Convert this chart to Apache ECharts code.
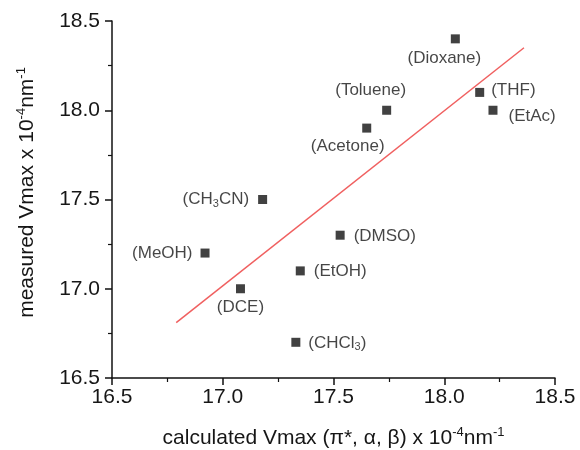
<!DOCTYPE html>
<html><head><meta charset="utf-8">
<script src="https://cdn.jsdelivr.net/npm/echarts@6/dist/echarts.min.js"></script>
<style>html,body{margin:0;padding:0;background:#fff}#c{width:580px;height:450px}</style>
</head><body><div id="c"></div>
<script>
const solvents = ['Dioxane','THF','EtAc','Toluene','Acetone','CH3CN','DMSO','MeOH','EtOH','DCE','CHCl3'];
const calculated = [18.05,18.16,18.22,17.74,17.65,17.18,17.53,16.92,17.35,17.08,17.33];
const measured   = [18.40,18.10,18.00,18.00,17.90,17.50,17.30,17.20,17.10,17.00,16.70];
const fitX = [16.79, 18.36];
const fitY = [16.81, 18.35];
const xTicks = [16.5, 17.0, 17.5, 18.0, 18.5];
const yTicks = [16.5, 17.0, 17.5, 18.0, 18.5];

const FONT = 'Liberation Sans, Arial, sans-serif';
const INK = '#161616';
const labelText = {
  CH3CN: '{a|(CH}{sub|3}{a|CN)}',
  CHCl3: '{a|(CHCl}{sub|3}{a|)}'
};
const labelPlace = {
  Dioxane: {position:'bottom', offset:[-11,1]},
  THF: {position:'right', offset:[2,-2]},
  EtAc: {position:'right', offset:[6,6]},
  Toluene: {position:'top', offset:[-16,-2]},
  Acetone: {position:'bottom', offset:[-19,0]},
  CH3CN: {position:'left', offset:[-4,0]},
  DMSO: {position:'right', offset:[4,1]},
  MeOH: {position:'left', offset:[-3,0]},
  EtOH: {position:'right', offset:[4,0]},
  DCE: {position:'bottom', offset:[0,1]},
  CHCl3: {position:'right', offset:[3,1]}
};
const rich = {
  a: {fontSize: 17, color:INK, fontFamily:FONT},
  sub: {fontSize: 11, color:INK, fontFamily:FONT, padding:[8,0,0,0]}
};
const pts = solvents.map((s,i)=>({
  value:[calculated[i], measured[i]],
  label:{show:true, position:labelPlace[s].position, offset:labelPlace[s].offset,
    formatter: labelText[s] || ('{a|(' + s + ')}'), rich: rich}
}));
const fitData = fitX.map((x,i)=>[x, fitY[i]]);

const titleRich = {
  t: {fontSize: 21, color:INK, fontFamily:FONT},
  sup: {fontSize: 13, color:INK, fontFamily:FONT, padding:[0,0,12,0]}
};
const axisCommon = {
  min: 16.5, max: 18.5, interval: 0.5,
  axisLine:{show:true, lineStyle:{color:'#111', width:1.5}},
  axisTick:{show:true, inside:false, length:7, lineStyle:{color:'#111', width:1.5}},
  minorTick:{show:true, splitNumber:2, length:4, lineStyle:{color:'#111', width:1.2}},
  splitLine:{show:false},
  axisLabel:{fontSize:21, color:INK, fontFamily:FONT, formatter: v => v.toFixed(1)}
};
const chart = echarts.init(document.getElementById('c'), null, {renderer:'canvas'});
chart.setOption({
  animation:false,
  backgroundColor:'#fff',
  grid:{left:112, right:25, top:21, bottom:72, containLabel:false, outerBoundsMode:'none'},
  xAxis: Object.assign({}, axisCommon, {
    type:'value',
    name:'{t|calculated Vmax (π*, α, β) x 10}{sup|-4}{t|nm}{sup|-1}',
    nameLocation:'middle', nameGap:48,
    nameTextStyle:{rich: titleRich},
    axisLabel: Object.assign({}, axisCommon.axisLabel, {margin:9})
  }),
  yAxis: Object.assign({}, axisCommon, {
    type:'value',
    name:'{t|measured Vmax x 10}{sup|-4}{t|nm}{sup|-1}',
    nameLocation:'middle', nameGap:72,
    nameTextStyle:{rich: titleRich, padding:[0,0,0,14]},
    axisLabel: Object.assign({}, axisCommon.axisLabel, {margin:12})
  }),
  series:[
    {type:'line', data: fitData, symbol:'none', lineStyle:{color:'#f06060', width:1.5}, z:1},
    {type:'scatter', data: pts, symbol:'rect', symbolSize:9, itemStyle:{color:'#111'}, z:3}
  ]
});
</script></body></html>
